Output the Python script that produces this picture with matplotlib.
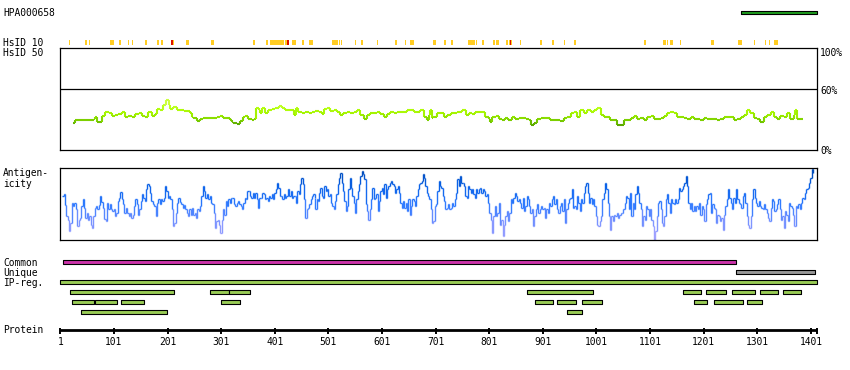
import numpy as np
import matplotlib
matplotlib.use('Agg')
import matplotlib.pyplot as plt
from matplotlib.collections import LineCollection
from matplotlib.colors import LinearSegmentedColormap, Normalize

W, H = 850, 370
LEFT, RIGHT = 60.3, 817.3   # pixel of residue 1 and of protein end
PROT_END = 1413

# ---- data ----
antibody_name = 'HPA000658'
antigen_region = [(1270, 1413)]

# HsID 10 hits (residue ranges)
hsid_yellow = [(17, 20), (47, 50), (54, 56), (94, 102), (110, 114), (127, 129), (134, 136),
               (159, 162), (181, 185), (189, 192), (211, 213), (236, 241), (282, 287), (361, 364),
               (385, 388), (392, 419), (421, 423), (433, 441), (452, 455), (465, 473), (508, 519),
               (521, 523), (525, 527), (550, 552), (562, 565), (591, 593), (625, 629), (644, 646),
               (654, 661), (697, 702), (717, 720), (730, 734), (762, 770), (771, 775), (776, 778),
               (788, 791), (809, 812), (814, 820), (833, 836), (838, 843), (858, 860), (896, 900),
               (919, 922), (941, 943), (960, 962), (1089, 1094), (1126, 1130), (1132, 1135),
               (1139, 1143), (1156, 1159), (1214, 1221), (1266, 1272), (1294, 1297), (1316, 1318),
               (1322, 1324), (1333, 1339)]
hsid_red = [(208, 211), (423, 427), (840, 842)]

# HsID 50 identity (%)
ident_pos = [25, 28, 44, 60, 63, 66, 70, 74, 78, 84, 91, 97, 103, 109, 116, 122, 128, 134, 140, 147,
             153, 159, 165, 172, 178, 182, 187, 193, 198, 203, 206, 212, 218, 224, 231, 237, 243, 246,
             249, 256, 262, 268, 274, 280, 287, 293, 299, 305, 312, 318, 321, 324, 330, 336, 341, 346,
             352, 358, 363, 366, 371, 374, 377, 383, 389, 396, 402, 408, 414, 420, 427, 433, 436, 441,
             445, 452, 458, 464, 470, 476, 483, 489, 492, 498, 504, 511, 517, 523, 529, 536, 542, 548,
             554, 560, 567, 573, 579, 585, 592, 598, 604, 610, 616, 623, 629, 635, 641, 648, 654, 660,
             666, 672, 679, 685, 688, 691, 694, 697, 704, 710, 716, 722, 729, 735, 741, 747, 751, 757,
             763, 769, 775, 781, 788, 794, 800, 803, 806, 813, 819, 825, 831, 837, 844, 850, 856, 862,
             869, 875, 879, 884, 890, 897, 903, 909, 915, 921, 928, 934, 940, 946, 953, 959, 965, 971,
             977, 984, 990, 996, 1002, 1009, 1015, 1021, 1027, 1033, 1040, 1046, 1052, 1058, 1065,
             1071, 1077, 1083, 1089, 1096, 1102, 1108, 1114, 1121, 1127, 1133, 1139, 1145, 1152, 1158,
             1164, 1170, 1177, 1183, 1189, 1195, 1201, 1208, 1214, 1220, 1226, 1232, 1239, 1245, 1251,
             1257, 1264, 1270, 1276, 1282, 1288, 1295, 1301, 1307, 1313, 1320, 1326, 1332, 1338, 1344,
             1351, 1357, 1363, 1369, 1372, 1376, 1382, 1387]
ident_val = [26.4, 29.7, 29.7, 29.7, 30.7, 33.0, 28.1, 28.1, 33.9, 37.9, 36.2, 33.9, 34.6, 35.2, 37.9,
             33.0, 33.9, 33.0, 35.6, 36.2, 33.9, 33.0, 37.9, 33.9, 35.2, 40.5, 39.5, 44.4, 49.3, 44.4,
             40.5, 42.8, 39.5, 39.5, 38.5, 38.5, 36.2, 33.0, 31.3, 28.7, 30.7, 32.0, 32.0, 32.0, 32.0,
             33.0, 33.9, 32.0, 31.3, 29.7, 27.4, 26.4, 25.4, 28.7, 33.0, 33.9, 30.7, 29.7, 30.7, 41.1,
             39.5, 36.2, 41.1, 36.2, 39.5, 40.5, 41.1, 43.7, 41.8, 39.5, 39.5, 39.5, 34.6, 41.8, 37.2,
             36.2, 37.2, 36.2, 37.9, 38.5, 37.9, 35.2, 40.5, 41.8, 38.5, 39.5, 37.9, 34.6, 36.2, 37.2,
             36.2, 37.9, 39.5, 34.6, 30.7, 34.6, 36.2, 36.2, 37.2, 35.2, 33.0, 35.2, 37.9, 36.2, 37.9,
             37.9, 37.9, 39.5, 39.5, 37.9, 37.2, 39.5, 33.0, 29.7, 34.6, 39.5, 31.3, 33.0, 36.2, 36.2,
             33.0, 34.6, 36.2, 36.2, 37.2, 37.9, 39.5, 34.6, 36.2, 35.6, 37.2, 37.2, 37.9, 33.0, 30.7,
             28.1, 33.0, 33.9, 30.7, 29.7, 31.3, 29.7, 33.0, 30.7, 32.0, 32.0, 30.7, 29.7, 24.8, 26.4,
             30.7, 31.3, 32.0, 32.0, 29.7, 29.7, 29.7, 28.7, 31.3, 33.0, 36.2, 37.9, 33.0, 39.5, 36.2,
             39.5, 37.9, 39.5, 41.8, 34.6, 33.0, 33.0, 29.7, 29.7, 24.8, 24.8, 29.7, 29.7, 31.3, 33.9,
             30.7, 31.3, 29.7, 33.0, 33.9, 30.7, 30.7, 31.3, 33.9, 36.2, 37.9, 36.2, 33.0, 33.0, 32.0,
             30.7, 33.0, 30.7, 30.7, 29.7, 31.3, 30.7, 30.7, 30.7, 29.7, 30.7, 33.0, 33.0, 33.0, 29.7,
             30.7, 33.0, 34.6, 39.5, 36.2, 31.3, 30.7, 28.1, 33.0, 34.6, 37.9, 33.0, 30.7, 33.9, 33.0,
             36.2, 30.7, 34.6, 39.5, 30.7, 30.7, 30.7]

# antigenicity score, three stretches read left to right
antig_spans = [(4.8, 475.8), (476.4, 952.4), (952.5, 1404.8)]
antig_a = [132, 137, 104, 72, 62, 27, 52, 112, 102, 110,
           92, 42, 62, 67, 102, 124, 97, 67, 82, 62,
           72, 47, 37, 72, 97, 102, 94, 104, 132, 114,
           97, 64, 57, 112, 92, 107, 92, 87, 94, 72,
           82, 117, 127, 144, 122, 107, 82, 97, 82, 72,
           82, 67, 77, 102, 122, 107, 77, 92, 117, 137,
           127, 117, 152, 167, 162, 142, 117, 107, 102, 72,
           112, 122, 107, 122, 117, 127, 162, 147, 127, 132,
           122, 92, 42, 52, 82, 112, 127, 114, 107, 97,
           104, 92, 82, 72, 92, 77, 97, 77, 82, 67,
           92, 87, 102, 132, 162, 147, 127, 137, 122, 132,
           112, 107, 82, 37, 57, 62, 47, 22, 62, 92,
           77, 117, 102, 122, 112, 127, 127, 107, 102, 112,
           117, 107, 102, 92, 112, 127, 122, 147, 147, 132,
           127, 142, 127, 142, 122, 97, 127, 127, 142, 137,
           122, 127, 117, 132, 127, 137, 122, 142, 152, 172,
           157, 132, 132, 122, 137, 127, 132, 152, 132, 147,
           127, 132, 132, 112, 147, 137, 167, 187, 167, 122,
           67, 92, 97, 107, 122, 132, 137, 127]
antig_b = [92, 122, 117, 142, 157, 132, 127, 162, 147, 152,
           132, 137, 112, 102, 92, 117, 137, 167, 187, 202,
           172, 147, 117, 87, 102, 152, 187, 157, 132, 112,
           82, 122, 147, 167, 192, 207, 197, 182, 107, 87,
           62, 92, 122, 157, 122, 127, 137, 87, 117, 147,
           157, 137, 167, 127, 152, 162, 172, 177, 167, 162,
           142, 152, 162, 142, 112, 97, 117, 97, 112, 87,
           122, 77, 102, 122, 117, 102, 132, 152, 167, 172,
           177, 197, 187, 162, 142, 132, 122, 92, 52, 57,
           102, 107, 147, 177, 162, 157, 132, 117, 92, 97,
           107, 92, 97, 112, 102, 122, 142, 182, 162, 192,
           172, 172, 162, 132, 127, 162, 152, 142, 152, 137,
           127, 152, 142, 152, 157, 142, 152, 147, 132, 137,
           112, 82, 62, 22, 72, 102, 72, 82, 112, 47,
           62, 12, 47, 72, 87, 57, 82, 122, 112, 127,
           142, 132, 117, 122, 112, 97, 127, 87, 102, 132,
           122, 102, 82, 92, 42, 72, 92, 107, 82, 92,
           102, 92, 97, 67, 92, 82, 112, 102, 122, 132,
           107, 122, 92, 82, 102, 112, 87, 122, 52, 92,
           112, 122, 122]
antig_c = [127, 152, 97, 102, 92, 132, 112, 87, 122, 112,
           142, 162, 172, 142, 112, 127, 107, 122, 102, 72,
           47, 42, 57, 72, 122, 142, 172, 152, 112, 72,
           32, 72, 57, 77, 72, 82, 67, 77, 82, 82,
           92, 112, 132, 127, 92, 142, 72, 112, 92, 137,
           162, 142, 112, 92, 42, 72, 62, 102, 92, 72,
           92, 62, 42, 2, 27, 72, 112, 117, 92, 52,
           42, 72, 122, 137, 112, 82, 122, 112, 107, 122,
           112, 122, 157, 147, 152, 162, 172, 192, 162, 112,
           92, 112, 87, 102, 87, 102, 92, 112, 77, 102,
           92, 57, 107, 122, 137, 142, 82, 107, 97, 92,
           52, 77, 72, 57, 67, 32, 77, 102, 122, 152,
           127, 112, 92, 127, 112, 152, 122, 112, 107, 97,
           132, 142, 112, 72, 47, 37, 72, 122, 152, 127,
           112, 102, 117, 102, 97, 92, 107, 92, 82, 67,
           57, 97, 122, 117, 87, 92, 107, 122, 92, 62,
           72, 37, 87, 77, 57, 112, 102, 97, 77, 42,
           102, 97, 107, 92, 112, 127, 122, 142, 152, 157,
           172, 187, 212, 202]

common_span = [(6, 1262)]
unique_span = [(1262, 1408)]
ipreg_span = [(1, 1413)]
ipreg_rows = [
    [(20, 213), (281, 315), (315, 355), (871, 995), (1162, 1197), (1205, 1243), (1254, 1297),
     (1306, 1340), (1349, 1383)],
    [(22, 63), (66, 106), (114, 157), (300, 336), (886, 920), (927, 963), (974, 1012),
     (1183, 1208), (1220, 1275), (1282, 1310)],
    [(40, 200), (947, 974)],
]

tick_pos = [1, 101, 201, 301, 401, 501, 601, 701, 801, 901, 1001, 1101, 1201, 1301, 1401]

# ---- drawing ----
FONT = dict(family='DejaVu Sans Mono', fontsize=6.9, color='black')

fig = plt.figure(figsize=(W / 100, H / 100), dpi=100)


def px_axes(top, bottom):
    return fig.add_axes([LEFT / W, 1 - bottom / H, (RIGHT - LEFT) / W, (bottom - top) / H])


def step_segments(x, y):
    segs, vals = [], []
    for i in range(len(x) - 1):
        segs.append([(x[i], y[i]), (x[i + 1], y[i])])
        vals.append(y[i])
        segs.append([(x[i + 1], y[i]), (x[i + 1], y[i + 1])])
        vals.append((y[i] + y[i + 1]) / 2)
    return segs, np.array(vals)


def label(x, baseline, s, ha='left'):
    fig.text(x / W, 1 - baseline / H, s, ha=ha, va='baseline', **FONT)


# identity panel
ax_id = px_axes(48.3, 150.3)
ax_id.set_xlim(1, PROT_END)
ax_id.set_ylim(0, 100)
ax_id.axhline(60, color='black', lw=0.9)
id_cmap = LinearSegmentedColormap.from_list('ident', ['#5aa800', '#80d400', '#a2f200', '#b4ff10', '#ccff40'])
segs, vals = step_segments(ident_pos, ident_val)
lc = LineCollection(segs, cmap=id_cmap, norm=Normalize(25, 46), linewidths=1.5, capstyle='butt')
lc.set_array(vals)
ax_id.add_collection(lc)

# antigenicity panel
ax_ag = px_axes(168.3, 240.3)
ax_ag.set_xlim(1, PROT_END)
ax_ag.set_ylim(0, 215)
ag_cmap = LinearSegmentedColormap.from_list('antig', ['#b0a8ff', '#7f95ff', '#2f7bff', '#0a62e8', '#0048b0'])
ag_x, ag_y = [], []
for span, vals_part in zip(antig_spans, [antig_a, antig_b, antig_c]):
    ag_x.extend(np.linspace(span[0], span[1], len(vals_part)))
    ag_y.extend(vals_part)
segs, vals = step_segments(ag_x, ag_y)
lc = LineCollection(segs, cmap=ag_cmap, norm=Normalize(0, 215), linewidths=1.0, capstyle='butt')
lc.set_array(vals)
ax_ag.add_collection(lc)

for ax in (ax_id, ax_ag):
    ax.set_xticks([])
    ax.set_yticks([])
    for sp in ax.spines.values():
        sp.set_linewidth(0.9)

# tracks drawn in residue / pixel-row coordinates
ax_tr = fig.add_axes([LEFT / W, 0, (RIGHT - LEFT) / W, 1])
ax_tr.set_xlim(1, PROT_END)
ax_tr.set_ylim(H, 0)
ax_tr.axis('off')


def bars(spans, center, color, height=3.7, edge='black'):
    ax_tr.broken_barh([(s, e - s) for s, e in spans], (center - height / 2, height),
                      facecolors=color, edgecolors=edge, linewidth=0.8, clip_on=False)


bars(antigen_region, 12.5, '#1f9e1f', height=3.8)
ax_tr.broken_barh([(s, e - s) for s, e in hsid_yellow], (40, 5), facecolors='#ffcc22',
                  edgecolors='none', clip_on=False)
ax_tr.broken_barh([(s, e - s) for s, e in hsid_red], (40, 5), facecolors='#dd1100',
                  edgecolors='none', clip_on=False)

bars(common_span, 262.3, '#cc33aa')
bars(unique_span, 272.3, '#999999')
bars(ipreg_span, 282.3, '#99cc55')
for i, row in enumerate(ipreg_rows):
    bars(row, 292.3 + 10 * i, '#99cc55')

# protein axis
ax_tr.plot([1, PROT_END], [329.6, 329.6], color='black', lw=2.0, solid_capstyle='butt', clip_on=False)
ax_tr.vlines(tick_pos + [PROT_END], 328.3, 334, color='black', lw=1.4, clip_on=False)
for t in tick_pos:
    ax_tr.text(t, 344.7, str(t), ha='center', va='baseline', **FONT)

# left labels
label(3, 16, antibody_name)
label(3, 46, 'HsID 10')
label(3, 56, 'HsID 50')
label(3, 176, 'Antigen-')
label(3, 186.7, 'icity')
label(3, 266.3, 'Common')
label(3, 276.3, 'Unique')
label(3, 286.3, 'IP-reg.')
label(3, 333, 'Protein')

# right scale labels
label(820, 56, '100%')
label(820, 94.3, '60%')
label(820, 154, '0%')

fig.savefig('out.png', dpi=100)
